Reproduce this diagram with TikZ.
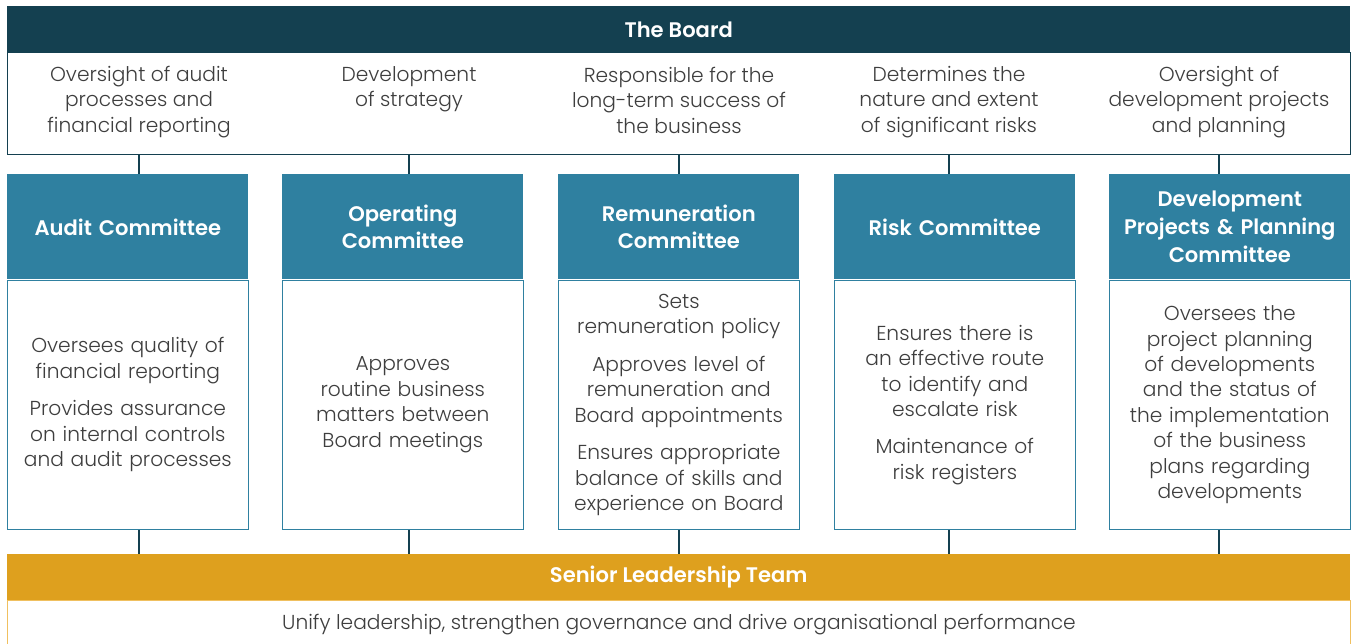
\documentclass[tikz,border=0pt]{standalone}
\usepackage{fontspec}
\setmainfont{Poppins}[UprightFont=*-Light, BoldFont=*-SemiBold]
\usepackage{tikz}
\usetikzlibrary{positioning}
\definecolor{boarddark}{RGB}{20,64,80}
\definecolor{comteal}{RGB}{47,128,160}
\definecolor{sltgold}{RGB}{222,160,30}
\definecolor{goldedge}{RGB}{240,192,96}
\definecolor{txtgrey}{RGB}{62,62,62}
\newcommand{\bodyfont}{\fontsize{11.5}{14.5}\selectfont}
\newcommand{\headfont}{\fontsize{12}{15.9}\selectfont\bfseries}
\tikzset{
  bar/.style={rectangle, anchor=north west, inner sep=0pt,
    minimum width=26.86cm, minimum height=0.92cm, text=white, font=\headfont},
  boardbox/.style={rectangle, anchor=north west, inner sep=0pt,
    minimum width=26.86cm, minimum height=2.04cm, draw=boarddark, line width=0.8pt},
  boardtxt/.style={align=center, inner sep=0pt, text=txtgrey, font=\bodyfont},
  comhead/.style={rectangle, anchor=north west, fill=comteal, inner sep=0pt,
    text width=4.82cm, minimum height=2.1cm, align=center, text=white, font=\headfont},
  combody/.style={rectangle, draw=comteal, fill=white, inner sep=0pt,
    text width=4.82cm, minimum height=4.98cm, align=center, text=txtgrey,
    font=\bodyfont, line width=0.8pt},
  link/.style={line width=0.8pt, color=boarddark}
}
\begin{document}
\begin{tikzpicture}[x=0.02cm, y=-0.02cm]
  \useasboundingbox (0,0) rectangle (1356,644);

  % The Board
  \node[bar, fill=boarddark] (board) at (7,6) {The Board};
  \node[boardbox] (boardinfo) at (7,52) {};
  \node[boardtxt] (bt1) at (139,102) {Oversight of audit\\processes and\\financial reporting};
  \node[boardtxt] (bt2) at (409,89) {Development\\of strategy};
  \node[boardtxt] (bt3) at (679,100) {Responsible for the\\long-term success of\\the business};
  \node[boardtxt] (bt4) at (949,102) {Determines the\\nature and extent\\of significant risks};
  \node[boardtxt] (bt5) at (1219,102) {Oversight of\\development projects\\and planning};

  % Committees
  \node[comhead] (audit) at (7,174) {Audit Committee};
  \node[combody, below=0pt of audit] (auditbody)
    {Oversees quality of\\financial reporting\\[6.8pt]
     Provides assurance\\on internal controls\\and audit processes};

  \node[comhead] (oper) at (282,174) {Operating\\Committee};
  \node[combody, below=0pt of oper] (operbody)
    {Approves\\routine business\\matters between\\Board meetings};

  \node[comhead] (remun) at (558,174) {Remuneration\\Committee};
  \node[combody, below=0pt of remun] (remunbody)
    {Sets\\remuneration policy\\[6.8pt]
     Approves level of\\remuneration and\\Board appointments\\[6.8pt]
     Ensures appropriate\\balance of skills and\\experience on Board};

  \node[comhead] (risk) at (834,174) {Risk Committee};
  \node[combody, below=0pt of risk] (riskbody)
    {Ensures there is\\an effective route\\to identify and\\escalate risk\\[6.8pt]
     Maintenance of\\risk registers};

  \node[comhead] (devp) at (1109,174) {Development\\Projects \& Planning\\Committee};
  \node[combody, below=0pt of devp] (devpbody)
    {Oversees the\\project planning\\of developments\\and the status of\\the implementation\\of the business\\plans regarding\\developments};

  % Senior Leadership Team
  \node[bar, fill=sltgold] (slt) at (7,554) {Senior Leadership Team};
  \node[rectangle, anchor=north west, inner sep=0pt, minimum width=26.86cm,
    minimum height=1.6cm, draw=goldedge, line width=0.8pt] (sltbody) at (7,600) {};
  \node[boardtxt] (unify) at (679,625)
    {Unify leadership, strengthen governance and drive organisational performance};

  % Board to committees
  \draw[link] (bt1 |- boardinfo.south) -- (bt1 |- audit.north);
  \draw[link] (bt2 |- boardinfo.south) -- (bt2 |- oper.north);
  \draw[link] (bt3 |- boardinfo.south) -- (bt3 |- remun.north);
  \draw[link] (bt4 |- boardinfo.south) -- (bt4 |- risk.north);
  \draw[link] (bt5 |- boardinfo.south) -- (bt5 |- devp.north);

  % Committees to SLT
  \draw[link] (bt1 |- auditbody.south) -- (bt1 |- slt.north);
  \draw[link] (bt2 |- operbody.south) -- (bt2 |- slt.north);
  \draw[link] (bt3 |- remunbody.south) -- (bt3 |- slt.north);
  \draw[link] (bt4 |- riskbody.south) -- (bt4 |- slt.north);
  \draw[link] (bt5 |- devpbody.south) -- (bt5 |- slt.north);
\end{tikzpicture}
\end{document}
